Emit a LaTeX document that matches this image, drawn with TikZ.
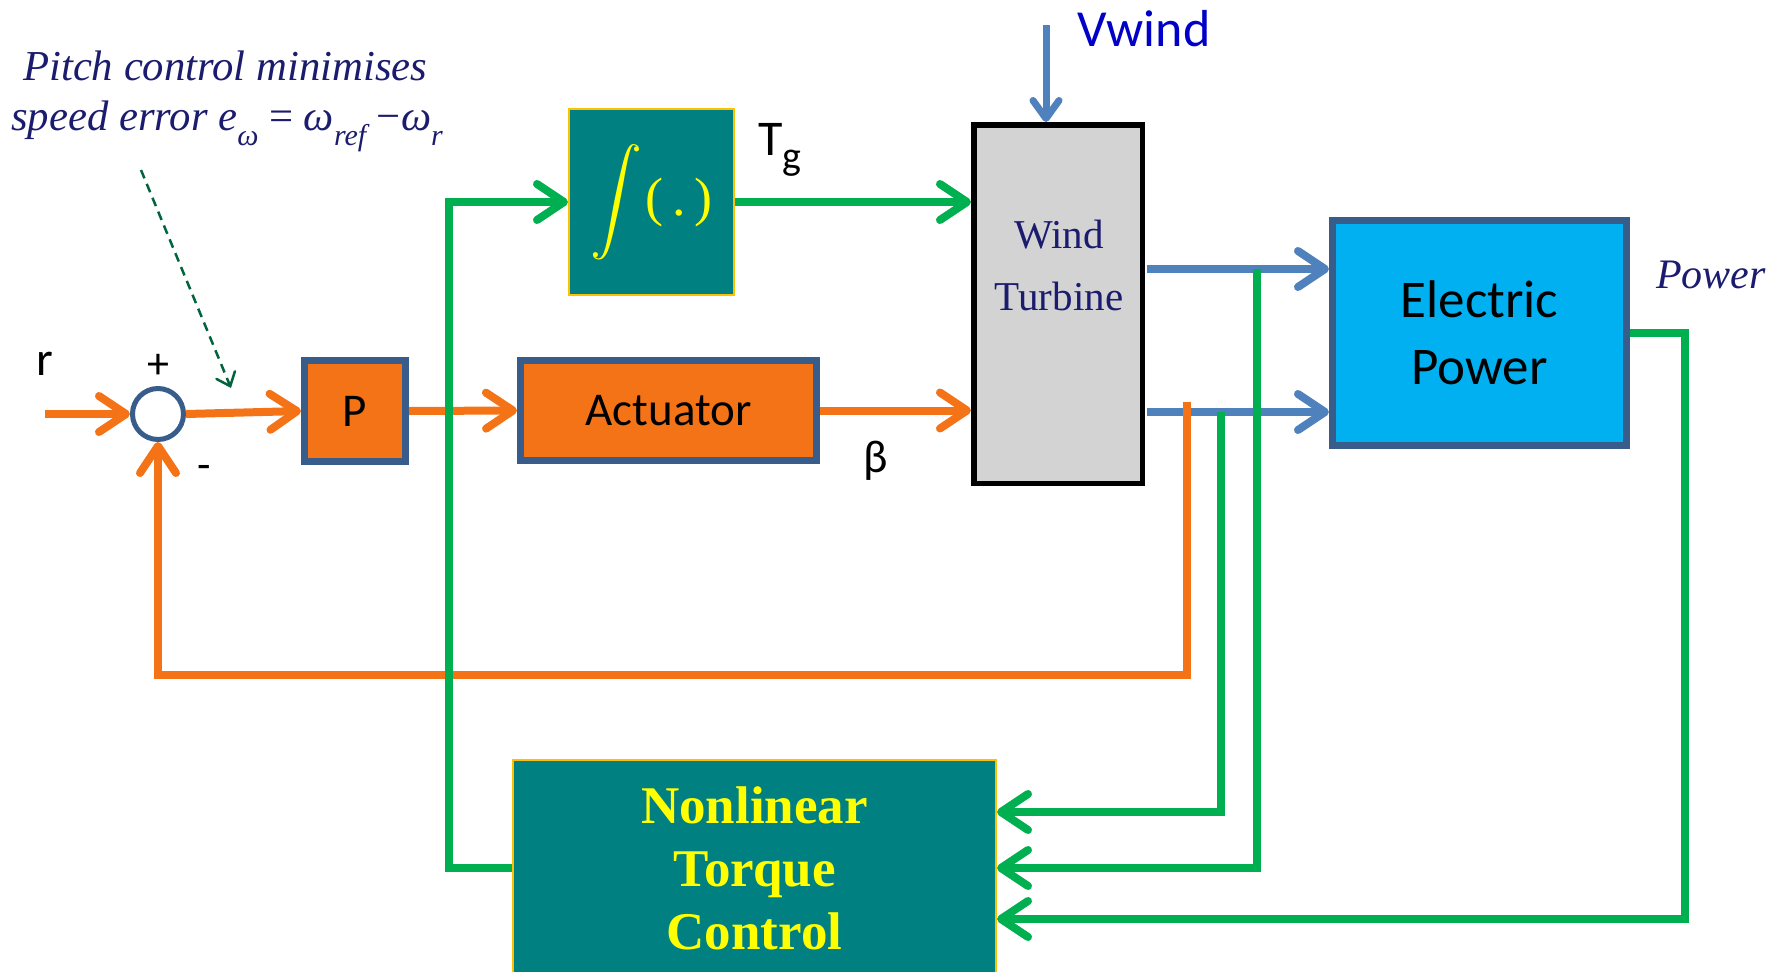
\documentclass[tikz,border=0pt]{standalone}
\usepackage{fontspec}
\usepackage{graphicx}
\setmainfont{Liberation Serif}
\newfontfamily\calib{Carlito}
\usetikzlibrary{arrows.meta}
\definecolor{orng}{RGB}{244,115,22}
\definecolor{grn}{RGB}{0,176,80}
\definecolor{blu}{RGB}{79,129,189}
\definecolor{bdr}{RGB}{56,93,138}
\definecolor{teal2}{RGB}{0,128,128}
\definecolor{gold}{RGB}{255,192,0}
\definecolor{sky}{RGB}{0,176,240}
\definecolor{wtgray}{RGB}{211,211,211}
\definecolor{navy2}{RGB}{28,28,110}
\definecolor{vblue}{RGB}{0,0,200}
\definecolor{dgreen}{RGB}{0,100,60}
\definecolor{yel}{RGB}{255,255,0}
\newcommand\setfs[1]{\fontsize{#1}{#1}\selectfont}
\newcommand\lowsub[1]{\raisebox{-15pt}{\setfs{30}#1}}
\begin{document}
\begin{tikzpicture}[x=1pt,y=-1pt,
  wire/.style={line width=8pt},
  tipA/.style={-{Straight Barb[length=27pt,width=36pt,line cap=round,line join=round]}},
  tipV/.style={-{Straight Barb[length=18pt,width=26pt,line cap=round,line join=round]}},
  blockO/.style={draw=bdr, line width=7pt, fill=orng, inner sep=0, font=\calib\setfs{47}},
  tealbox/.style={draw=gold, line width=2pt, fill=teal2, text=yel, inner sep=0},
  lbl/.style={inner sep=0, font=\calib\setfs{47}},
  note/.style={anchor=base west, inner sep=0, text=navy2, font=\itshape\setfs{42.7}},
]
\useasboundingbox (0,0) rectangle (1773,972);

% blocks
\node[circle, draw=bdr, line width=5pt, fill=white, minimum size=51pt, inner sep=0] (S) at (158,414) {};
\node[blockO, minimum width=101pt, minimum height=101pt] (P) at (355,411) {P};
\node[blockO, minimum width=296pt, minimum height=100pt] (A) at (668.5,410.5) {Actuator};
\node[tealbox, minimum width=165pt, minimum height=186pt] (I) at (651.5,202)
  {\scalebox{5.2}{$\displaystyle\int$}\hspace{3pt}\setfs{54}(\,.\,)};
\node[draw=black, line width=5.5pt, fill=wtgray, minimum width=168.5pt, minimum height=358.5pt] (WT) at (1058,304) {};
\node[text=navy2, align=center, inner sep=0, font=\fontsize{41}{62}\selectfont] (WTt) at (1059,265) {Wind\\Turbine};
\node[draw=bdr, line width=7pt, fill=sky, minimum width=294pt, minimum height=225pt, inner sep=0,
  align=center, font=\calib\fontsize{53}{67}\selectfont] (EP) at (1479.5,333) {Electric\\Power};
\node[tealbox, minimum width=483pt, minimum height=216pt, align=center,
  font=\bfseries\fontsize{53}{63}\selectfont] (N) at (754.5,868) {Nonlinear\\Torque\\Control};

% coordinates
\coordinate (rin) at (45,414);
\coordinate (vw) at (1046,25);
\coordinate (b1s) at (1147,269);
\coordinate (b2s) at (1147,412);
\coordinate (fbs) at (1187,402);
\coordinate (fbc) at (1187,675);
\coordinate (gl) at (449,868);
\coordinate (g1s) at (1221,412);
\coordinate (g2s) at (1257,269);
\coordinate (g3c) at (1685,333);
\coordinate (n1) at (997,812);
\coordinate (n3) at (997,919);
\coordinate (ds) at (141,170);
\coordinate (de) at (231,388);

% blue
\draw[line width=7pt, blu, tipV] (vw) -- (vw |- WT.north);
\draw[wire, blu, tipA] (b1s) -- (b1s -| EP.west);
\draw[wire, blu, tipA] (b2s) -- (b2s -| EP.west);

% orange
\draw[wire, orng, tipA] (rin) -- (S.west);
\draw[wire, orng, tipA] (S.east) -- (P.west);
\draw[wire, orng, tipA] (P.east) -- (A.west);
\draw[wire, orng, tipA] (A.east) -- (A.east -| WT.west);
\draw[wire, orng, tipA] (fbs) -- (fbc) -| (S.south);

% green
\draw[wire, grn, tipA] (I.east) -- (I.east -| WT.west);
\draw[wire, grn, tipA] (N.west) -- (gl) |- (I.west);
\draw[wire, grn, tipA] (g1s) |- (n1);
\draw[wire, grn, tipA] (g2s) |- (N.east);
\draw[wire, grn, tipA] (EP.east) -- (g3c) |- (n3);

% dashed annotation arrow
\draw[dgreen, line width=2.5pt, dash pattern=on 9pt off 6pt,
  -{Straight Barb[length=12pt,width=20pt,line cap=round]}] (ds) -- (de);

% labels
\node[lbl, font=\calib\setfs{48}] (rl) at (45,364) {r};
\node[lbl, font=\calib\setfs{44}] (pl) at (158,366) {+};
\node[lbl, font=\calib\setfs{44}] (ml) at (204,472) {-};
\node[anchor=base west, inner sep=0, font=\calib\setfs{50}] (tg) at (758,155) {T\raisebox{-14pt}{\setfs{40}g}};
\node[lbl, font=\calib\setfs{46}] (beta) at (876,461) {β};
\node[anchor=base west, inner sep=0, text=vblue, font=\calib\setfs{52}] (vwl) at (1077,46) {Vwind};
\node[inner sep=0, text=navy2, font=\itshape\setfs{42}] (pw) at (1711,275) {Power};
\node[note] (t1) at (23,80) {Pitch control minimises};
\node[note] (t2) at (11,130) {speed error e\lowsub{ω} {\upshape =} ω\lowsub{ref} {\upshape −}ω\lowsub{r}};
\end{tikzpicture}
\end{document}
